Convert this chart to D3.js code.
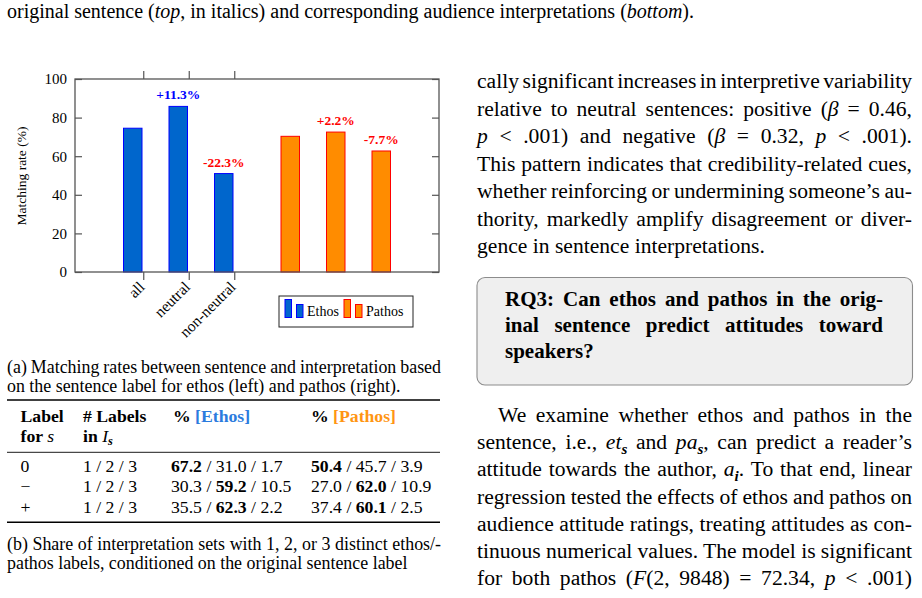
<!DOCTYPE html>
<html>
<head>
<meta charset="utf-8">
<script src="https://cdn.jsdelivr.net/npm/d3@7"></script>
<style>
body { margin: 0; background: #fff; width: 922px; height: 598px; overflow: hidden; }
svg text { font-family: "Liberation Serif", "Times New Roman", serif; fill: #000; }
</style>
</head>
<body>
<svg id="page" width="922" height="598"></svg>
<script>
// ---- chart data ----
var categories = ["all", "neutral", "non-neutral"]
var ethosRate = [74.5, 85.8, 51.0]
var pathosRate = [70.3, 72.5, 62.7]
var ethosNote = ["", "+11.3%", "-22.3%"]
var pathosNote = ["", "+2.2%", "-7.7%"]
var ethosNoteCol = ["", "#0000ff", "#ff0000"]
var pathosNoteCol = ["", "#ff0000", "#ff0000"]
var yTicks = [0, 20, 40, 60, 80, 100]

// ---- table data ----
var rowLabels = ["0", "\u2212", "+"]
var nLabels = ["1 / 2 / 3", "1 / 2 / 3", "1 / 2 / 3"]
var ethosShare = [[67.2, 31.0, 1.7], [30.3, 59.2, 10.5], [35.5, 62.3, 2.2]]
var pathosShare = [[50.4, 45.7, 3.9], [27.0, 62.0, 10.9], [37.4, 60.1, 2.5]]

var svg = d3.select("#page")

// write one line of text; parts = [[text, style]], style: i, b, sub, or a colour
function textLine(x, y, parts, size, width, weight) {
  var t = svg.append("text")
    .attr("x", x).attr("y", y)
    .style("font-size", size + "px")
    .style("font-weight", weight || "normal")
  var shift = 0
  var all = ""
  parts.forEach(function(p) {
    var s = t.append("tspan").text(p[0])
    var st = p[1] || ""
    if (st.indexOf("#") == 0) s.style("fill", st)
    else {
      if (st.indexOf("i") >= 0) s.style("font-style", "italic")
      if (st.indexOf("b") >= 0) s.style("font-weight", "bold")
    }
    if (st.indexOf("sub") >= 0) {
      s.attr("dy", size * 0.22 - shift).style("font-size", (size * 0.7) + "px")
      shift = size * 0.22
    } else if (shift) {
      s.attr("dy", -shift)
      shift = 0
    }
    all += p[0]
  })
  if (width) {
    var nat = t.node().getComputedTextLength()
    var sp = (all.match(/ /g) || []).length
    if (sp) t.attr("word-spacing", (width - nat) / sp)
  }
  return t
}

// ---- page text, left column ----
textLine(7, 18, [["original sentence ("], ["top", "i"], [", in italics) and corresponding audience interpretations ("], ["bottom", "i"], [")."]], 20)

// ---- the bar chart ----
var x = d3.scaleLinear().domain([-0.5, 7.5]).range([75, 439])
var y = d3.scaleLinear().domain([0, 100]).range([272, 79])
var ethosPos = [1, 2, 3]
var pathosPos = [4, 5, 6]
var shiftPx = 10.5
var barW = 18.5
var axisCol = "#555"

var chart = svg.append("g")

chart.selectAll(".ebar").data(ethosRate).enter().append("rect")
  .attr("class", "ebar")
  .attr("x", function(d, i) { return x(ethosPos[i]) - shiftPx - barW / 2 })
  .attr("y", function(d) { return y(d) })
  .attr("width", barW)
  .attr("height", function(d) { return y(0) - y(d) })
  .attr("fill", "#0066cc")
  .attr("stroke", "#0000ff")
  .attr("stroke-width", 1)

chart.selectAll(".pbar").data(pathosRate).enter().append("rect")
  .attr("class", "pbar")
  .attr("x", function(d, i) { return x(pathosPos[i]) + shiftPx - barW / 2 })
  .attr("y", function(d) { return y(d) })
  .attr("width", barW)
  .attr("height", function(d) { return y(0) - y(d) })
  .attr("fill", "#ff8c00")
  .attr("stroke", "#ff0000")
  .attr("stroke-width", 1)

chart.selectAll(".enote").data(ethosRate).enter().append("text")
  .attr("x", function(d, i) { return x(ethosPos[i]) - shiftPx })
  .attr("y", function(d) { return y(d) - 7 })
  .attr("text-anchor", "middle")
  .style("font-size", "13.5px").style("font-weight", "bold")
  .style("fill", function(d, i) { return ethosNoteCol[i] })
  .text(function(d, i) { return ethosNote[i] })

chart.selectAll(".pnote").data(pathosRate).enter().append("text")
  .attr("x", function(d, i) { return x(pathosPos[i]) + shiftPx })
  .attr("y", function(d) { return y(d) - 7 })
  .attr("text-anchor", "middle")
  .style("font-size", "13.5px").style("font-weight", "bold")
  .style("fill", function(d, i) { return pathosNoteCol[i] })
  .text(function(d, i) { return pathosNote[i] })

// axes
var yl = chart.append("g").attr("transform", "translate(75,0)")
  .call(d3.axisLeft(y).tickValues(yTicks).tickSize(-7).tickPadding(8))
var yr = chart.append("g").attr("transform", "translate(439,0)")
  .call(d3.axisRight(y).tickValues(yTicks).tickSize(-7).tickFormat(""))
var xb = chart.append("g").attr("transform", "translate(0,272)")
  .call(d3.axisBottom(x).tickValues(ethosPos).tickSize(8)
    .tickFormat(function(d, i) { return categories[i] }))
var xt = chart.append("g").attr("transform", "translate(0,79)")
  .call(d3.axisTop(x).tickValues(ethosPos).tickSize(8).tickFormat(""))

chart.selectAll(".domain").remove()
chart.selectAll(".tick line").attr("stroke", axisCol).attr("stroke-width", 1.2)
yl.selectAll("text").style("font-size", "15px").attr("font-family", null)
xb.selectAll("text")
  .style("font-size", "15.5px").attr("font-family", null)
  .attr("text-anchor", "end")
  .attr("x", 0).attr("y", 0).attr("dy", "0.35em")
  .attr("transform", "translate(-2,12) rotate(-45)")

chart.append("rect")
  .attr("x", 75).attr("y", 79).attr("width", 364).attr("height", 193)
  .attr("fill", "none").attr("stroke", axisCol).attr("stroke-width", 1.3)

chart.append("text")
  .attr("transform", "translate(26,176) rotate(-90)")
  .attr("text-anchor", "middle")
  .style("font-size", "13.5px")
  .text("Matching rate (%)")

// legend
var leg = chart.append("g")
leg.append("rect").attr("x", 279).attr("y", 296).attr("width", 134).attr("height", 31)
  .attr("fill", "#fff").attr("stroke", "#222").attr("stroke-width", 1)
var legItems = [
  { name: "Ethos", fill: "#0066cc", stroke: "#0000ff", x0: 285, tx: 307 },
  { name: "Pathos", fill: "#ff8c00", stroke: "#ff0000", x0: 344, tx: 366 }
]
legItems.forEach(function(it) {
  leg.append("rect").attr("x", it.x0).attr("y", 299.5).attr("width", 6.5).attr("height", 18)
    .attr("fill", it.fill).attr("stroke", it.stroke)
  leg.append("rect").attr("x", it.x0 + 11.5).attr("y", 304.5).attr("width", 6.5).attr("height", 13)
    .attr("fill", it.fill).attr("stroke", it.stroke)
  leg.append("text").attr("x", it.tx).attr("y", 316).style("font-size", "14px").text(it.name)
})

// ---- caption (a) ----
var cfs = 17.9
textLine(7, 373, [["(a) Matching rates between sentence and interpretation based"]], cfs, 434)
textLine(7, 392, [["on the sentence label for ethos (left) and pathos (right)."]], cfs)

// ---- table ----
var tfs = 17.7
svg.append("line").attr("x1", 7).attr("x2", 440).attr("y1", 400).attr("y2", 400)
  .attr("stroke", "#000").attr("stroke-width", 1.6)
svg.append("line").attr("x1", 7).attr("x2", 440).attr("y1", 452.3).attr("y2", 452.3)
  .attr("stroke", "#000").attr("stroke-width", 0.9)
svg.append("line").attr("x1", 7).attr("x2", 440).attr("y1", 522.3).attr("y2", 522.3)
  .attr("stroke", "#000").attr("stroke-width", 1.6)

var colX = [20.5, 83, 171, 311]
textLine(colX[0], 422, [["Label", "b"]], tfs)
textLine(colX[1], 422, [["# Labels", "b"]], tfs)
textLine(colX[2] + 2, 422, [["% "], ["[Ethos]", "#2b7bde"]], tfs, 0, "bold")
textLine(colX[3], 422, [["% "], ["[Pathos]", "#ff9512"]], tfs, 0, "bold")
textLine(colX[0], 441.5, [["for ", "b"], ["s", "i"]], tfs)
textLine(colX[1], 441.5, [["in ", "b"], ["I", "i"], ["s", "isub"]], tfs)

function shareParts(v) {
  var mx = d3.max(v)
  var parts = []
  v.forEach(function(n, k) {
    parts.push([n.toFixed(1), n == mx ? "b" : ""])
    if (k < v.length - 1) parts.push([" / "])
  })
  return parts
}
rowLabels.forEach(function(lab, r) {
  var by = 472 + r * 20.3
  textLine(colX[0], by, [[lab]], tfs)
  textLine(colX[1], by, [[nLabels[r]]], tfs)
  textLine(colX[2], by, shareParts(ethosShare[r]), tfs)
  textLine(colX[3], by, shareParts(pathosShare[r]), tfs)
})

// ---- caption (b) ----
textLine(7, 550, [["(b) Share of interpretation sets with 1, 2, or 3 distinct ethos/-"]], cfs, 434)
textLine(7, 568.5, [["pathos labels, conditioned on the original sentence label"]], cfs)

// ---- right column ----
var bfs = 21.6
var colL = 477, colW = 435
var p1 = [
  [["cally significant increases in interpretive variability"]],
  [["relative to neutral sentences: positive ("], ["\u03b2", "i"], [" = 0.46,"]],
  [["p", "i"], [" < .001) and negative ("], ["\u03b2", "i"], [" = 0.32, "], ["p", "i"], [" < .001)."]],
  [["This pattern indicates that credibility-related cues,"]],
  [["whether reinforcing or undermining someone\u2019s au-"]],
  [["thority, markedly amplify disagreement or diver-"]],
  [["gence in sentence interpretations."]]
]
p1.forEach(function(l, i) {
  textLine(colL, 88 + i * 27.5, l, bfs, i < p1.length - 1 ? colW : 0)
})

svg.append("rect").attr("x", 477).attr("y", 277.5).attr("width", 435.5).attr("height", 107.5)
  .attr("rx", 8).attr("ry", 8)
  .attr("fill", "#efefef").attr("stroke", "#8c8c8c").attr("stroke-width", 1.1)
var box = [
  [["RQ3: Can ethos and pathos in the orig-"]],
  [["inal sentence predict attitudes toward"]],
  [["speakers?"]]
]
box.forEach(function(l, i) {
  textLine(505, 306 + i * 26, l, 21, i < box.length - 1 ? 378 : 0, "bold")
})

var p2 = [
  [["We examine whether ethos and pathos in the"]],
  [["sentence, i.e., "], ["et", "i"], ["s", "isub"], [" and "], ["pa", "i"], ["s", "isub"], [", can predict a reader\u2019s"]],
  [["attitude towards the author, "], ["a", "i"], ["i", "isub"], [". To that end, linear"]],
  [["regression tested the effects of ethos and pathos on"]],
  [["audience attitude ratings, treating attitudes as con-"]],
  [["tinuous numerical values. The model is significant"]],
  [["for both pathos ("], ["F", "i"], ["(2, 9848) = 72.34, "], ["p", "i"], [" < .001)"]]
]
p2.forEach(function(l, i) {
  var ind = i == 0 ? 21 : 0
  textLine(colL + ind, 422 + i * 27.2, l, bfs, colW - ind)
})
</script>
</body>
</html>
